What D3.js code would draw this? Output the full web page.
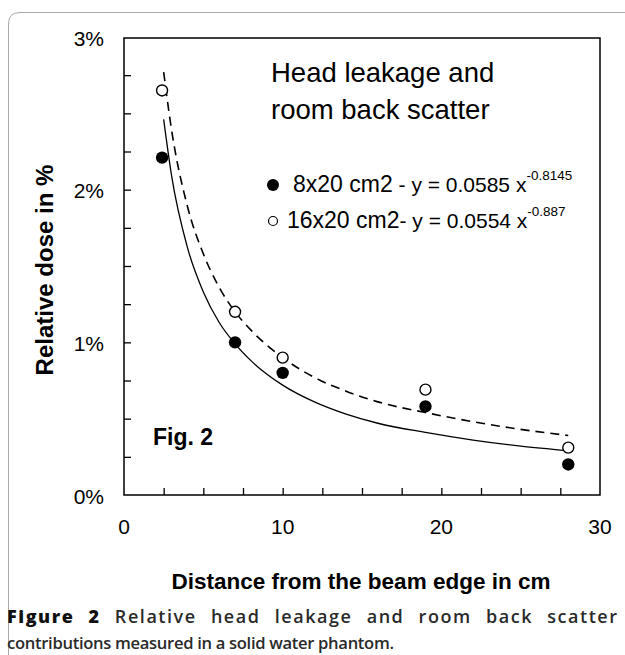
<!DOCTYPE html>
<html>
<head>
<meta charset="utf-8">
<script src="https://cdn.jsdelivr.net/npm/d3@7"></script>
<style>
  body { margin: 0; background: #fff; }
  svg { display: block; }
</style>
</head>
<body>
<div id="chart"></div>
<script>
// measured points (distance in cm, relative dose in %)
var distances = [2.4, 7, 10, 19, 28];
var small = [2.21, 1.0, 0.80, 0.58, 0.20];   // 8x20 cm2
var large = [2.65, 1.2, 0.90, 0.69, 0.31];   // 16x20 cm2

// fit curves
var fitX = [2.5, 3, 4, 5, 6, 7, 8, 10, 12, 14, 16, 19, 22, 25, 28];
var fitSolid = [2.46, 2.09, 1.62, 1.33, 1.13, 0.99, 0.88, 0.72, 0.61, 0.53, 0.47, 0.41, 0.36, 0.32, 0.29];
var fitDashed = [2.77, 2.39, 1.89, 1.58, 1.36, 1.20, 1.08, 0.90, 0.77, 0.68, 0.61, 0.54, 0.48, 0.43, 0.39];

var xTicks = [0, 10, 20, 30];
var yTicks = [0, 1, 2, 3];

var W = 625, H = 655;
var svg = d3.select("#chart").append("svg")
  .attr("width", W).attr("height", H);

// outer frame of the figure box
svg.append("path")
  .attr("d", "M8.5,655 L8.5,24 Q8.5,12.5 20,12.5 L625,12.5")
  .attr("fill", "none").attr("stroke", "#aaa").attr("stroke-width", 1);

var mLeft = 124, mRight = 600, mTop = 37, mBottom = 495;

var x = d3.scaleLinear().domain([0, 30]).range([mLeft, mRight]);
var y = d3.scaleLinear().domain([0, 3]).range([mBottom, mTop]);

// plot frame
svg.append("rect")
  .attr("x", mLeft).attr("y", mTop + 1)
  .attr("width", mRight - mLeft).attr("height", mBottom - mTop - 1)
  .attr("fill", "none").attr("stroke", "#000").attr("stroke-width", 1.5);

// inner ticks
svg.append("g")
  .attr("transform", "translate(0," + mBottom + ")")
  .call(d3.axisTop(x).tickValues(d3.range(2.5, 30, 2.5)).tickSize(7).tickFormat(""))
  .call(function (g) { g.select(".domain").remove(); })
  .selectAll("line").attr("stroke-width", 1.3);

svg.append("g")
  .attr("transform", "translate(" + mLeft + ",0)")
  .call(d3.axisRight(y).tickValues(d3.range(0.25, 3, 0.25)).tickSize(7).tickFormat(""))
  .call(function (g) { g.select(".domain").remove(); })
  .selectAll("line").attr("stroke-width", 1.3);

var font = "Liberation Sans, Arial, sans-serif";

// tick labels
svg.selectAll(".xl").data(xTicks).enter().append("text")
  .attr("x", function (d) { return x(d); })
  .attr("y", 534)
  .attr("text-anchor", "middle")
  .attr("font-family", font).attr("font-size", 21)
  .text(function (d) { return d; });

svg.selectAll(".yl").data(yTicks).enter().append("text")
  .attr("x", 104)
  .attr("y", function (d) { return y(d) + 8.5; })
  .attr("text-anchor", "end")
  .attr("font-family", font).attr("font-size", 21)
  .text(function (d) { return d + "%"; });

// axis titles
svg.append("text")
  .attr("x", 361).attr("y", 589)
  .attr("text-anchor", "middle")
  .attr("font-family", font).attr("font-weight", "bold").attr("font-size", 22.5)
  .text("Distance from the beam edge in cm");

svg.append("text")
  .attr("transform", "translate(53,270) rotate(-90)")
  .attr("text-anchor", "middle")
  .attr("font-family", font).attr("font-weight", "bold").attr("font-size", 24)
  .text("Relative dose in %");

// fit lines
var line = d3.line().curve(d3.curveMonotoneX)
  .x(function (d) { return x(d[0]); })
  .y(function (d) { return y(d[1]); });

svg.append("path")
  .datum(fitX.map(function (v, i) { return [v, fitSolid[i]]; }))
  .attr("d", line)
  .attr("fill", "none").attr("stroke", "#000").attr("stroke-width", 1.3);

svg.append("path")
  .datum(fitX.map(function (v, i) { return [v, fitDashed[i]]; }))
  .attr("d", line)
  .attr("fill", "none").attr("stroke", "#000").attr("stroke-width", 1.6)
  .attr("stroke-dasharray", "9,6");

// points
svg.selectAll(".open").data(large).enter().append("circle")
  .attr("cx", function (d, i) { return x(distances[i]); })
  .attr("cy", function (d) { return y(d); })
  .attr("r", 5.5)
  .attr("fill", "#fff").attr("stroke", "#000").attr("stroke-width", 1.4);

svg.selectAll(".filled").data(small).enter().append("circle")
  .attr("cx", function (d, i) { return x(distances[i]); })
  .attr("cy", function (d) { return y(d); })
  .attr("r", 6.2)
  .attr("fill", "#000");

// title inside the plot
svg.append("text")
  .attr("x", 271).attr("y", 82)
  .attr("font-family", font).attr("font-size", 27.5)
  .text("Head leakage and");
svg.append("text")
  .attr("x", 271).attr("y", 119)
  .attr("font-family", font).attr("font-size", 27.5)
  .text("room back scatter");

// legend
svg.append("circle").attr("cx", 273).attr("cy", 185).attr("r", 6).attr("fill", "#000");
var l1 = svg.append("text").attr("x", 293).attr("y", 192)
  .attr("font-family", font).attr("font-size", 23);
l1.append("tspan").text("8x20 cm2");
l1.append("tspan").attr("font-size", 21).text(" - y = 0.0585 x");
l1.append("tspan").attr("font-size", 13.5).attr("dy", -12).text("-0.8145");

svg.append("circle").attr("cx", 273).attr("cy", 221).attr("r", 4.5)
  .attr("fill", "#fff").attr("stroke", "#000").attr("stroke-width", 1.2);
var l2 = svg.append("text").attr("x", 287).attr("y", 228)
  .attr("font-family", font).attr("font-size", 23);
l2.append("tspan").text("16x20 cm2");
l2.append("tspan").attr("font-size", 21).text("- y = 0.0554 x");
l2.append("tspan").attr("font-size", 13.5).attr("dy", -12).text("-0.887");

svg.append("text")
  .attr("x", 153).attr("y", 445)
  .attr("font-family", font).attr("font-weight", "bold").attr("font-size", 23)
  .text("Fig. 2");

// caption, first line justified across the box
var cfont = "Open Sans, Noto Sans, sans-serif";
var c1 = svg.append("text").attr("x", 7).attr("y", 623)
  .attr("font-family", cfont).attr("font-size", 18).attr("font-weight", 600)
  .attr("fill", "#2a2a2a")
  .attr("word-spacing", 8)
  .attr("textLength", 610).attr("lengthAdjust", "spacing");
c1.append("tspan").attr("font-weight", 800).attr("fill", "#111").text("Figure 2");
c1.append("tspan").text(" Relative head leakage and room back scatter");

svg.append("text").attr("x", 7).attr("y", 649)
  .attr("font-family", cfont).attr("font-size", 16.6).attr("font-weight", 600)
  .attr("fill", "#2a2a2a")
  .attr("textLength", 387).attr("lengthAdjust", "spacing")
  .text("contributions measured in a solid water phantom.");
</script>
</body>
</html>
